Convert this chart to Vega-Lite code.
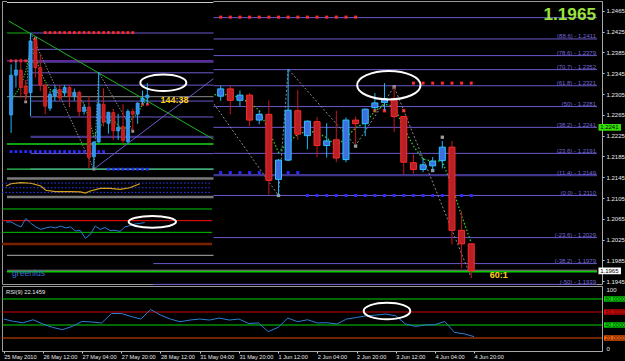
{
  "$schema": "https://vega.github.io/schema/vega-lite/v6.json",
  "background": "#000000",
  "padding": 0,
  "bounds": "flush",
  "spacing": 2,
  "config": {"view": {"stroke": "#9a9a9a", "strokeWidth": 1}, "font": "Liberation Sans",
    "axis": {"grid": false, "labelColor": "#e8e8e8", "tickColor": "#cccccc", "domainColor": "#a8a8a8", "labelFont": "Liberation Sans"}},
  "datasets": {
    "candles": [
      {"b":11,"o":1.2246,"h":1.2373,"l":1.2201,"c":1.2346},{"b":12,"o":1.2346,"h":1.2382,"l":1.2315,"c":1.2359},
      {"b":13,"o":1.2359,"h":1.2388,"l":1.2289,"c":1.2315},{"b":14,"o":1.2319,"h":1.2334,"l":1.2281,"c":1.2299},
      {"b":15,"o":1.2302,"h":1.2452,"l":1.2243,"c":1.2432},{"b":16,"o":1.2436,"h":1.2442,"l":1.2340,"c":1.2365},
      {"b":17,"o":1.2365,"h":1.2398,"l":1.2306,"c":1.2321},{"b":18,"o":1.2321,"h":1.2323,"l":1.2248,"c":1.2268},
      {"b":19,"o":1.2263,"h":1.2306,"l":1.2256,"c":1.2298},{"b":20,"o":1.2294,"h":1.2319,"l":1.2281,"c":1.2310},
      {"b":21,"o":1.2310,"h":1.2321,"l":1.2281,"c":1.2289},{"b":22,"o":1.2301,"h":1.2321,"l":1.2292,"c":1.2315},
      {"b":23,"o":1.2315,"h":1.2322,"l":1.2266,"c":1.2293},{"b":24,"o":1.2293,"h":1.2312,"l":1.2282,"c":1.2303},
      {"b":25,"o":1.2303,"h":1.2307,"l":1.2243,"c":1.2255},{"b":26,"o":1.2255,"h":1.2273,"l":1.2247,"c":1.2266},
      {"b":27,"o":1.2266,"h":1.2293,"l":1.2112,"c":1.2139},{"b":28,"o":1.2141,"h":1.2180,"l":1.2110,"c":1.2178},
      {"b":29,"o":1.2178,"h":1.2353,"l":1.2176,"c":1.2274},{"b":30,"o":1.2273,"h":1.2313,"l":1.2217,"c":1.2228},
      {"b":31,"o":1.2225,"h":1.2254,"l":1.2199,"c":1.2253},{"b":32,"o":1.2252,"h":1.2261,"l":1.2184,"c":1.2206},
      {"b":33,"o":1.2206,"h":1.2249,"l":1.2183,"c":1.2215},{"b":34,"o":1.2217,"h":1.2273,"l":1.2174,"c":1.2182},
      {"b":35,"o":1.2179,"h":1.2260,"l":1.2174,"c":1.2255},{"b":36,"o":1.2255,"h":1.2262,"l":1.2208,"c":1.2248},
      {"b":37,"o":1.2248,"h":1.2277,"l":1.2224,"c":1.2276},{"b":38,"o":1.2279,"h":1.2307,"l":1.2273,"c":1.2288},
      {"b":39,"o":1.2289,"h":1.2326,"l":1.2273,"c":1.2296},{"b":40,"o":1.2296,"h":1.2319,"l":1.2232,"c":1.2262},
      {"b":41,"o":1.2262,"h":1.2263,"l":1.2151,"c":1.2174},{"b":42,"o":1.2173,"h":1.2189,"l":1.2152,"c":1.2160},
      {"b":43,"o":1.2160,"h":1.2182,"l":1.2155,"c":1.2169},{"b":44,"o":1.2167,"h":1.2184,"l":1.2157,"c":1.2176},
      {"b":45,"o":1.2177,"h":1.2215,"l":1.2162,"c":1.2203},{"b":46,"o":1.2203,"h":1.2215,"l":1.2016,"c":1.2043},
      {"b":47,"o":1.2043,"h":1.2080,"l":1.1970,"c":1.2017},{"b":48,"o":1.2017,"h":1.2018,"l":1.1952,"c":1.1965}
    ],
    "ma": [
      {"b":11,"p":1.2281},{"b":12,"p":1.2300},{"b":13,"p":1.2319},{"b":14,"p":1.2355},{"b":15,"p":1.2410},
      {"b":16,"p":1.2394},{"b":17,"p":1.2356},{"b":18,"p":1.2331},{"b":19,"p":1.2310},{"b":20,"p":1.2302},
      {"b":21,"p":1.2303},{"b":22,"p":1.2305},{"b":23,"p":1.2303},{"b":24,"p":1.2298},{"b":25,"p":1.2288},
      {"b":26,"p":1.2274},{"b":27,"p":1.2234},{"b":28,"p":1.2193},{"b":29,"p":1.2211},{"b":30,"p":1.2228},
      {"b":31,"p":1.2234},{"b":32,"p":1.2231},{"b":33,"p":1.2221},{"b":34,"p":1.2205},{"b":35,"p":1.2221},
      {"b":36,"p":1.2240},{"b":37,"p":1.2250},{"b":38,"p":1.2272},{"b":39,"p":1.2285},{"b":40,"p":1.2282},
      {"b":41,"p":1.2240},{"b":42,"p":1.2205},{"b":43,"p":1.2180},{"b":44,"p":1.2176},{"b":45,"p":1.2176},
      {"b":46,"p":1.2128},{"b":47,"p":1.2071},{"b":48,"p":1.2019}
    ],
    "zz": [
      {"b":14,"p":1.2279},{"b":15,"p":1.2452},{"b":28,"p":1.2110},{"b":29,"p":1.2353},
      {"b":36,"p":1.2206},{"b":40,"p":1.2319},{"b":48,"p":1.1952}
    ],
    "frac": [
      {"b":14,"p":1.2279,"k":"gray"},{"b":16,"p":1.2438,"k":"gray"},{"b":28,"p":1.2110,"k":"gray"},
      {"b":36,"p":1.2205,"k":"gray"},{"b":40,"p":1.2319,"k":"gray"},{"b":44,"p":1.2158,"k":"gray"},
      {"b":45,"p":1.2222,"k":"gray"},{"b":15,"p":1.2392,"k":"red"},{"b":37,"p":1.2273,"k":"red"},
      {"b":38,"p":1.2273,"k":"red"},{"b":39,"p":1.2273,"k":"red"},{"b":41,"p":1.2273,"k":"red"}
    ],
    "dots": [
      {"b":11,"p":1.2382,"k":"res"},{"b":12,"p":1.2382,"k":"res"},{"b":13,"p":1.2382,"k":"res"},{"b":14,"p":1.2382,"k":"res"},
      {"b":18,"p":1.2453,"k":"res"},{"b":19,"p":1.2453,"k":"res"},{"b":20,"p":1.2453,"k":"res"},{"b":21,"p":1.2453,"k":"res"},
      {"b":22,"p":1.2453,"k":"res"},{"b":23,"p":1.2453,"k":"res"},{"b":24,"p":1.2453,"k":"res"},{"b":25,"p":1.2453,"k":"res"},
      {"b":26,"p":1.2453,"k":"res"},{"b":27,"p":1.2453,"k":"res"},{"b":28,"p":1.2453,"k":"res"},{"b":29,"p":1.2453,"k":"res"},
      {"b":30,"p":1.2453,"k":"res"},{"b":31,"p":1.2453,"k":"res"},{"b":32,"p":1.2453,"k":"res"},{"b":33,"p":1.2453,"k":"res"},
      {"b":34,"p":1.2453,"k":"res"},{"b":35,"p":1.2453,"k":"res"},{"b":36,"p":1.2453,"k":"res"},
      {"b":42,"p":1.2326,"k":"res"},{"b":43,"p":1.2326,"k":"res"},{"b":44,"p":1.2326,"k":"res"},{"b":45,"p":1.2326,"k":"res"},
      {"b":46,"p":1.2326,"k":"res"},{"b":47,"p":1.2326,"k":"res"},{"b":48,"p":1.2326,"k":"res"},
      {"b":11,"p":1.2154,"k":"sup"},{"b":12,"p":1.2154,"k":"sup"},{"b":13,"p":1.2154,"k":"sup"},{"b":14,"p":1.2154,"k":"sup"},
      {"b":15,"p":1.2154,"k":"sup"},{"b":16,"p":1.2154,"k":"sup"},{"b":17,"p":1.2154,"k":"sup"},{"b":18,"p":1.2154,"k":"sup"},
      {"b":19,"p":1.2154,"k":"sup"},{"b":20,"p":1.2154,"k":"sup"},{"b":21,"p":1.2154,"k":"sup"},{"b":22,"p":1.2154,"k":"sup"},
      {"b":23,"p":1.2154,"k":"sup"},{"b":24,"p":1.2154,"k":"sup"},{"b":25,"p":1.2154,"k":"sup"},{"b":26,"p":1.2154,"k":"sup"},
      {"b":27,"p":1.2154,"k":"sup"},{"b":28,"p":1.2154,"k":"sup"},{"b":29,"p":1.2154,"k":"sup"},{"b":30,"p":1.2154,"k":"sup"},
      {"b":31,"p":1.2110,"k":"sup"},{"b":32,"p":1.2110,"k":"sup"},{"b":33,"p":1.2110,"k":"sup"},{"b":34,"p":1.2110,"k":"sup"},
      {"b":35,"p":1.2110,"k":"sup"},{"b":36,"p":1.2110,"k":"sup"},{"b":37,"p":1.2110,"k":"sup"},{"b":38,"p":1.2110,"k":"sup"},
      {"b":39,"p":1.2110,"k":"sup"},{"b":40,"p":1.2110,"k":"sup"},{"b":41,"p":1.2110,"k":"sup"},{"b":42,"p":1.2110,"k":"sup"},
      {"b":43,"p":1.2110,"k":"sup"},{"b":44,"p":1.2110,"k":"sup"},{"b":45,"p":1.2110,"k":"sup"},{"b":46,"p":1.2110,"k":"sup"},
      {"b":47,"p":1.2110,"k":"sup"},{"b":48,"p":1.2110,"k":"sup"}
    ],
    "fib": [
      {"lvl":100,"p":1.2452},
      {"lvl":88.6,"p":1.2411,"t":"(88.6) - 1.2411"},
      {"lvl":78.6,"p":1.2379,"t":"(78.6) - 1.2379"},
      {"lvl":70.7,"p":1.2352,"t":"(70.7) - 1.2352"},
      {"lvl":61.8,"p":1.2321,"t":"(61.8) - 1.2321"},
      {"lvl":50,"p":1.2281,"t":"(50) - 1.2281"},
      {"lvl":38.2,"p":1.2241,"t":"(38.2) - 1.2241"},
      {"lvl":23.6,"p":1.2191,"t":"(23.6) - 1.2191"},
      {"lvl":11.4,"p":1.2149,"t":"(11.4) - 1.2149"},
      {"lvl":0,"p":1.2110,"t":"(0.0) - 1.2110"},
      {"lvl":-23.6,"p":1.2029,"t":"(-23.6) - 1.2029"},
      {"lvl":-38.2,"p":1.1979,"t":"(-38.2) - 1.1979"},
      {"lvl":-50,"p":1.1939,"t":"(-50) - 1.1939"}
    ],
    "mline": [{"p":1.19662,"k":"bid"},{"p":1.19633,"k":"grn"}],
    "pbox": [{"p":1.2241,"t":"1.2241","k":"lvl"},{"p":1.1965,"t":"1.1965","k":"cur"}],
    "inlines": [{"p":1.2382,"k":"mag"},{"p":1.2292,"k":"bid"},{"p":1.2173,"k":"g2"},{"p":1.2110,"k":"g3"}],
    "trend": [
      {"id":"g","b":10.5,"p":1.24822},{"id":"g","b":52.586,"p":1.21849},
      {"id":"s","b":28,"p":1.2110},{"id":"s","b":52.586,"p":1.23372}
    ],
    "osc": [
      {"b":11,"v":61},{"b":12,"v":76},{"b":14,"v":83},{"b":16,"v":79},{"b":18,"v":61},{"b":19,"v":34},
      {"b":21,"v":25},{"b":24,"v":25},{"b":26,"v":23},{"b":27,"v":16},{"b":28,"v":29},{"b":30,"v":46},
      {"b":32,"v":46},{"b":34,"v":40},{"b":36,"v":50},{"b":38,"v":76}
    ],
    "osclev": [{"v":80},{"v":50},{"v":20}],
    "rsi": [
      {"b":0,"v":49.2},{"b":1,"v":45.5},{"b":2,"v":43.5},{"b":3,"v":48.1},{"b":4,"v":41.5},{"b":5,"v":36.3},
      {"b":6,"v":32.8},{"b":7,"v":37.9},{"b":8,"v":45.5},{"b":9,"v":44.6},{"b":10,"v":43.1},{"b":11,"v":57.7},
      {"b":12,"v":57.7},{"b":13,"v":53.1},{"b":14,"v":49.2},{"b":15,"v":63.8},{"b":16,"v":55.3},{"b":17,"v":49.2},
      {"b":18,"v":45.0},{"b":19,"v":47.6},{"b":20,"v":49.2},{"b":21,"v":47.6},{"b":22,"v":50.7},{"b":23,"v":47.6},
      {"b":24,"v":49.2},{"b":25,"v":42.4},{"b":26,"v":43.1},{"b":27,"v":29.8},{"b":28,"v":36.3},{"b":29,"v":50.7},
      {"b":30,"v":45.0},{"b":31,"v":48.1},{"b":32,"v":43.1},{"b":33,"v":43.5},{"b":34,"v":41.5},{"b":35,"v":49.2},
      {"b":36,"v":51.6},{"b":37,"v":54.2},{"b":38,"v":55.3},{"b":39,"v":56.8},{"b":40,"v":54.2},{"b":41,"v":41.5},
      {"b":42,"v":37.9},{"b":43,"v":40.0},{"b":44,"v":40.5},{"b":45,"v":45.5},{"b":46,"v":28.7},{"b":47,"v":26.3},
      {"b":48,"v":22.1}
    ],
    "rsilev": [{"v":80,"t":"80.0000"},{"v":60,"t":"60.0000"},{"v":40,"t":"40.0000"},{"v":20,"t":"20.0000"}]
  },
  "vconcat": [
    {
      "width": 600,
      "height": 283,
      "resolve": {"scale": {"x": "independent", "y": "independent"}},
      "layer": [
        {
          "layer": [
            {
              "data": {"name": "fib"},
              "mark": {"type": "rule"},
              "encoding": {
                "x": {"datum": 15, "type": "quantitative", "scale": {"domain": [-0.173, 61.05], "nice": false, "zero": false}, "axis": null},
                "x2": {"datum": 61.05},
                "y": {"field": "p", "type": "quantitative", "scale": {"domain": [1.193977, 1.2484], "nice": false, "zero": false}, "axis": {"orient": "right", "title": null, "values": [1.1945,1.1985,1.2025,1.2065,1.2105,1.2145,1.2185,1.2225,1.2265,1.2305,1.2345,1.2385,1.2425,1.2465], "format": ".4f", "labelFontSize": 6, "labelColor": "#e8e8e8", "tickColor": "#cccccc", "tickSize": 2, "labelPadding": 2, "domainColor": "#a8a8a8", "labelOverlap": false, "labelFlush": false, "grid": false}},
                "color": {"condition": {"test": "datum.lvl == 11.4", "value": "#40378c"}, "value": "#6a5acd"},
                "strokeWidth": {"condition": {"test": "datum.lvl == 11.4", "value": 2.2}, "value": 1}
              }
            },
            {
              "data": {"name": "fib"},
              "transform": [{"filter": "isValid(datum.t)"}],
              "mark": {"type": "text", "align": "right", "baseline": "bottom", "fontSize": 6, "color": "#7468dc", "dy": 0.5},
              "encoding": {
                "x": {"datum": 60.95, "type": "quantitative", "scale": {"domain": [-0.173, 61.05], "nice": false, "zero": false}, "axis": null},
                "y": {"field": "p", "type": "quantitative", "scale": {"domain": [1.193977, 1.2484], "nice": false, "zero": false}, "axis": {"orient": "right", "title": null, "values": [1.1945,1.1985,1.2025,1.2065,1.2105,1.2145,1.2185,1.2225,1.2265,1.2305,1.2345,1.2385,1.2425,1.2465], "format": ".4f", "labelFontSize": 6, "labelColor": "#e8e8e8", "tickColor": "#cccccc", "tickSize": 2, "labelPadding": 2, "domainColor": "#a8a8a8", "labelOverlap": false, "labelFlush": false, "grid": false}},
                "text": {"field": "t"}
              }
            },
            {
              "data": {"name": "mline"},
              "mark": {"type": "rule"},
              "encoding": {
                "x": {"datum": -0.173, "type": "quantitative", "scale": {"domain": [-0.173, 61.05], "nice": false, "zero": false}, "axis": null},
                "x2": {"datum": 61.05},
                "y": {"field": "p", "type": "quantitative", "scale": {"domain": [1.193977, 1.2484], "nice": false, "zero": false}, "axis": {"orient": "right", "title": null, "values": [1.1945,1.1985,1.2025,1.2065,1.2105,1.2145,1.2185,1.2225,1.2265,1.2305,1.2345,1.2385,1.2425,1.2465], "format": ".4f", "labelFontSize": 6, "labelColor": "#e8e8e8", "tickColor": "#cccccc", "tickSize": 2, "labelPadding": 2, "domainColor": "#a8a8a8", "labelOverlap": false, "labelFlush": false, "grid": false}},
                "color": {"condition": {"test": "datum.k == 'grn'", "value": "#00d000"}, "value": "#8a8a8a"},
                "strokeWidth": {"condition": {"test": "datum.k == 'grn'", "value": 1.5}, "value": 1}
              }
            },
            {
              "data": {"name": "dots"},
              "transform": [{"filter": "datum.b >= 22"}],
              "mark": {"type": "point", "shape": "square", "filled": true, "size": 9, "opacity": 1},
              "encoding": {
                "x": {"field": "b", "type": "quantitative", "scale": {"domain": [-0.173, 61.05], "nice": false, "zero": false}, "axis": null},
                "y": {"field": "p", "type": "quantitative", "scale": {"domain": [1.193977, 1.2484], "nice": false, "zero": false}, "axis": {"orient": "right", "title": null, "values": [1.1945,1.1985,1.2025,1.2065,1.2105,1.2145,1.2185,1.2225,1.2265,1.2305,1.2345,1.2385,1.2425,1.2465], "format": ".4f", "labelFontSize": 6, "labelColor": "#e8e8e8", "tickColor": "#cccccc", "tickSize": 2, "labelPadding": 2, "domainColor": "#a8a8a8", "labelOverlap": false, "labelFlush": false, "grid": false}},
                "color": {"condition": {"test": "datum.k == 'res'", "value": "#ff2a2a"}, "value": "#2a2aff"}
              }
            },
            {
              "data": {"name": "frac"},
              "transform": [{"filter": "datum.b >= 22"}],
              "mark": {"type": "point", "shape": "square", "filled": true, "size": 11, "opacity": 1},
              "encoding": {
                "x": {"field": "b", "type": "quantitative", "scale": {"domain": [-0.173, 61.05], "nice": false, "zero": false}, "axis": null},
                "y": {"field": "p", "type": "quantitative", "scale": {"domain": [1.193977, 1.2484], "nice": false, "zero": false}, "axis": {"orient": "right", "title": null, "values": [1.1945,1.1985,1.2025,1.2065,1.2105,1.2145,1.2185,1.2225,1.2265,1.2305,1.2345,1.2385,1.2425,1.2465], "format": ".4f", "labelFontSize": 6, "labelColor": "#e8e8e8", "tickColor": "#cccccc", "tickSize": 2, "labelPadding": 2, "domainColor": "#a8a8a8", "labelOverlap": false, "labelFlush": false, "grid": false}},
                "color": {"condition": {"test": "datum.k == 'red'", "value": "#ff2020"}, "value": "#9a9a9a"}
              }
            },
            {
              "data": {"name": "zz"},
              "mark": {"type": "line", "color": "#8c8c8c", "strokeWidth": 1, "strokeDash": [2, 2]},
              "encoding": {
                "x": {"field": "b", "type": "quantitative", "scale": {"domain": [-0.173, 61.05], "nice": false, "zero": false}, "axis": null},
                "y": {"field": "p", "type": "quantitative", "scale": {"domain": [1.193977, 1.2484], "nice": false, "zero": false}, "axis": {"orient": "right", "title": null, "values": [1.1945,1.1985,1.2025,1.2065,1.2105,1.2145,1.2185,1.2225,1.2265,1.2305,1.2345,1.2385,1.2425,1.2465], "format": ".4f", "labelFontSize": 6, "labelColor": "#e8e8e8", "tickColor": "#cccccc", "tickSize": 2, "labelPadding": 2, "domainColor": "#a8a8a8", "labelOverlap": false, "labelFlush": false, "grid": false}}
              }
            },
            {
              "data": {"name": "ma"},
              "mark": {"type": "line", "color": "#2bd02b", "strokeWidth": 1.3, "strokeDash": [1.5, 2]},
              "encoding": {
                "x": {"field": "b", "type": "quantitative", "scale": {"domain": [-0.173, 61.05], "nice": false, "zero": false}, "axis": null},
                "y": {"field": "p", "type": "quantitative", "scale": {"domain": [1.193977, 1.2484], "nice": false, "zero": false}, "axis": {"orient": "right", "title": null, "values": [1.1945,1.1985,1.2025,1.2065,1.2105,1.2145,1.2185,1.2225,1.2265,1.2305,1.2345,1.2385,1.2425,1.2465], "format": ".4f", "labelFontSize": 6, "labelColor": "#e8e8e8", "tickColor": "#cccccc", "tickSize": 2, "labelPadding": 2, "domainColor": "#a8a8a8", "labelOverlap": false, "labelFlush": false, "grid": false}}
              }
            },
            {
              "data": {"name": "candles"},
              "transform": [{"filter": "datum.b >= 22"}],
              "mark": {"type": "rule", "strokeWidth": 1},
              "encoding": {
                "x": {"field": "b", "type": "quantitative", "scale": {"domain": [-0.173, 61.05], "nice": false, "zero": false}, "axis": null},
                "y": {"field": "l", "type": "quantitative", "scale": {"domain": [1.193977, 1.2484], "nice": false, "zero": false}, "axis": {"orient": "right", "title": null, "values": [1.1945,1.1985,1.2025,1.2065,1.2105,1.2145,1.2185,1.2225,1.2265,1.2305,1.2345,1.2385,1.2425,1.2465], "format": ".4f", "labelFontSize": 6, "labelColor": "#e8e8e8", "tickColor": "#cccccc", "tickSize": 2, "labelPadding": 2, "domainColor": "#a8a8a8", "labelOverlap": false, "labelFlush": false, "grid": false}},
                "y2": {"field": "h"},
                "color": {"condition": {"test": "datum.c >= datum.o", "value": "#19b6ff"}, "value": "#c4161c"}
              }
            },
            {
              "data": {"name": "candles"},
              "transform": [{"filter": "datum.b >= 22"}],
              "mark": {"type": "bar", "size": 6, "strokeWidth": 1},
              "encoding": {
                "x": {"field": "b", "type": "quantitative", "scale": {"domain": [-0.173, 61.05], "nice": false, "zero": false}, "axis": null},
                "y": {"field": "o", "type": "quantitative", "scale": {"domain": [1.193977, 1.2484], "nice": false, "zero": false}, "axis": {"orient": "right", "title": null, "values": [1.1945,1.1985,1.2025,1.2065,1.2105,1.2145,1.2185,1.2225,1.2265,1.2305,1.2345,1.2385,1.2425,1.2465], "format": ".4f", "labelFontSize": 6, "labelColor": "#e8e8e8", "tickColor": "#cccccc", "tickSize": 2, "labelPadding": 2, "domainColor": "#a8a8a8", "labelOverlap": false, "labelFlush": false, "grid": false}},
                "y2": {"field": "c"},
                "fill": {"condition": {"test": "datum.c >= datum.o", "value": "#3d6fe0"}, "value": "#b82025"},
                "stroke": {"condition": {"test": "datum.c >= datum.o", "value": "#29c6ff"}, "value": "#ff2a2a"}
              }
            },
            {
              "data": {"values": [{}]},
              "mark": {"type": "point", "shape": "M-1,0C-1,-0.247,-0.552,-0.448,0,-0.448C0.552,-0.448,1,-0.247,1,0C1,0.247,0.552,0.448,0,0.448C-0.552,0.448,-1,0.247,-1,0Z", "size": 4020, "filled": false, "color": "#ffffff", "strokeWidth": 2, "opacity": 1},
              "encoding": {
                "x": {"datum": 39.45, "type": "quantitative", "scale": {"domain": [-0.173, 61.05], "nice": false, "zero": false}, "axis": null},
                "y": {"datum": 1.23221, "type": "quantitative", "scale": {"domain": [1.193977, 1.2484], "nice": false, "zero": false}, "axis": {"orient": "right", "title": null, "values": [1.1945,1.1985,1.2025,1.2065,1.2105,1.2145,1.2185,1.2225,1.2265,1.2305,1.2345,1.2385,1.2425,1.2465], "format": ".4f", "labelFontSize": 6, "labelColor": "#e8e8e8", "tickColor": "#cccccc", "tickSize": 2, "labelPadding": 2, "domainColor": "#a8a8a8", "labelOverlap": false, "labelFlush": false, "grid": false}}
              }
            },
            {
              "data": {"values": [{}]},
              "mark": {"type": "text", "text": "1.1965", "align": "right", "baseline": "alphabetic", "fontSize": 17.2, "fontWeight": "bold", "color": "#9be33c"},
              "encoding": {
                "x": {"datum": 60.95, "type": "quantitative", "scale": {"domain": [-0.173, 61.05], "nice": false, "zero": false}, "axis": null},
                "y": {"datum": 1.244688, "type": "quantitative", "scale": {"domain": [1.193977, 1.2484], "nice": false, "zero": false}, "axis": {"orient": "right", "title": null, "values": [1.1945,1.1985,1.2025,1.2065,1.2105,1.2145,1.2185,1.2225,1.2265,1.2305,1.2345,1.2385,1.2425,1.2465], "format": ".4f", "labelFontSize": 6, "labelColor": "#e8e8e8", "tickColor": "#cccccc", "tickSize": 2, "labelPadding": 2, "domainColor": "#a8a8a8", "labelOverlap": false, "labelFlush": false, "grid": false}}
              }
            },
            {
              "data": {"values": [{}]},
              "mark": {"type": "text", "text": "60:1", "align": "left", "baseline": "alphabetic", "fontSize": 9, "fontWeight": "bold", "color": "#ffd21a"},
              "encoding": {
                "x": {"datum": 49.93, "type": "quantitative", "scale": {"domain": [-0.173, 61.05], "nice": false, "zero": false}, "axis": null},
                "y": {"datum": 1.195131, "type": "quantitative", "scale": {"domain": [1.193977, 1.2484], "nice": false, "zero": false}, "axis": {"orient": "right", "title": null, "values": [1.1945,1.1985,1.2025,1.2065,1.2105,1.2145,1.2185,1.2225,1.2265,1.2305,1.2345,1.2385,1.2425,1.2465], "format": ".4f", "labelFontSize": 6, "labelColor": "#e8e8e8", "tickColor": "#cccccc", "tickSize": 2, "labelPadding": 2, "domainColor": "#a8a8a8", "labelOverlap": false, "labelFlush": false, "grid": false}}
              }
            },
            {
              "data": {"values": [{}]},
              "mark": {"type": "text", "text": "greenius", "align": "left", "baseline": "alphabetic", "fontSize": 8.6, "color": "#3a6fd8"},
              "encoding": {
                "x": {"datum": 0.35, "type": "quantitative", "scale": {"domain": [-0.173, 61.05], "nice": false, "zero": false}, "axis": null},
                "y": {"datum": 1.195515, "type": "quantitative", "scale": {"domain": [1.193977, 1.2484], "nice": false, "zero": false}, "axis": {"orient": "right", "title": null, "values": [1.1945,1.1985,1.2025,1.2065,1.2105,1.2145,1.2185,1.2225,1.2265,1.2305,1.2345,1.2385,1.2425,1.2465], "format": ".4f", "labelFontSize": 6, "labelColor": "#e8e8e8", "tickColor": "#cccccc", "tickSize": 2, "labelPadding": 2, "domainColor": "#a8a8a8", "labelOverlap": false, "labelFlush": false, "grid": false}}
              }
            },
            {
              "data": {"name": "pbox"},
              "mark": {"type": "point", "shape": "M-1,-0.3L1,-0.3L1,0.3L-1,0.3Z", "size": 506, "filled": true, "opacity": 1},
              "encoding": {
                "x": {"datum": 62.37, "type": "quantitative", "scale": {"domain": [-0.173, 61.05], "nice": false, "zero": false}, "axis": null},
                "y": {"field": "p", "type": "quantitative", "scale": {"domain": [1.193977, 1.2484], "nice": false, "zero": false}, "axis": {"orient": "right", "title": null, "values": [1.1945,1.1985,1.2025,1.2065,1.2105,1.2145,1.2185,1.2225,1.2265,1.2305,1.2345,1.2385,1.2425,1.2465], "format": ".4f", "labelFontSize": 6, "labelColor": "#e8e8e8", "tickColor": "#cccccc", "tickSize": 2, "labelPadding": 2, "domainColor": "#a8a8a8", "labelOverlap": false, "labelFlush": false, "grid": false}},
                "color": {"condition": {"test": "datum.k == 'cur'", "value": "#ffffff"}, "value": "#35e000"}
              }
            },
            {
              "data": {"name": "pbox"},
              "mark": {"type": "text", "align": "left", "baseline": "middle", "fontSize": 6, "color": "#000000"},
              "encoding": {
                "x": {"datum": 61.38, "type": "quantitative", "scale": {"domain": [-0.173, 61.05], "nice": false, "zero": false}, "axis": null},
                "y": {"field": "p", "type": "quantitative", "scale": {"domain": [1.193977, 1.2484], "nice": false, "zero": false}, "axis": {"orient": "right", "title": null, "values": [1.1945,1.1985,1.2025,1.2065,1.2105,1.2145,1.2185,1.2225,1.2265,1.2305,1.2345,1.2385,1.2425,1.2465], "format": ".4f", "labelFontSize": 6, "labelColor": "#e8e8e8", "tickColor": "#cccccc", "tickSize": 2, "labelPadding": 2, "domainColor": "#a8a8a8", "labelOverlap": false, "labelFlush": false, "grid": false}},
                "text": {"field": "t"}
              }
            }
          ]
        },
        {
          "layer": [
            {
              "data": {"values": [{}]},
              "mark": {"type": "rect", "color": "#000000", "opacity": 1},
              "encoding": {
                "x": {"datum": 10.162, "type": "quantitative", "scale": {"domain": [10.162, 131.374], "nice": false, "zero": false}, "axis": null},
                "x2": {"datum": 52.586},
                "y": {"datum": 1.187662, "type": "quantitative", "scale": {"domain": [1.182135, 1.25324], "nice": false, "zero": false}, "axis": null},
                "y2": {"datum": 1.25324}
              }
            },
            {
              "data": {"values": [{}]},
              "mark": {"type": "rule", "color": "#c8c8c8", "strokeWidth": 1},
              "encoding": {
                "x": {"datum": 10.162, "type": "quantitative", "scale": {"domain": [10.162, 131.374], "nice": false, "zero": false}, "axis": null},
                "x2": {"datum": 52.586},
                "y": {"datum": 1.252863, "type": "quantitative", "scale": {"domain": [1.182135, 1.25324], "nice": false, "zero": false}, "axis": null}
              }
            },
            {
              "data": {"values": [{}]},
              "mark": {"type": "rule", "color": "#7a7a7a", "strokeWidth": 2.5},
              "encoding": {
                "x": {"datum": 10.162, "type": "quantitative", "scale": {"domain": [10.162, 131.374], "nice": false, "zero": false}, "axis": null},
                "x2": {"datum": 52.586},
                "y": {"datum": 1.208642, "type": "quantitative", "scale": {"domain": [1.182135, 1.25324], "nice": false, "zero": false}, "axis": null}
              }
            },
            {
              "data": {"values": [{}]},
              "mark": {"type": "rule", "color": "#7a7a7a", "strokeWidth": 2.5},
              "encoding": {
                "x": {"datum": 10.162, "type": "quantitative", "scale": {"domain": [10.162, 131.374], "nice": false, "zero": false}, "axis": null},
                "x2": {"datum": 52.586},
                "y": {"datum": 1.203994, "type": "quantitative", "scale": {"domain": [1.182135, 1.25324], "nice": false, "zero": false}, "axis": null}
              }
            },
            {
              "data": {"values": [{}]},
              "mark": {"type": "rule", "color": "#b0b0b0", "strokeWidth": 1},
              "encoding": {
                "x": {"datum": 10.162, "type": "quantitative", "scale": {"domain": [10.162, 131.374], "nice": false, "zero": false}, "axis": null},
                "x2": {"datum": 52.586},
                "y": {"datum": 1.189345, "type": "quantitative", "scale": {"domain": [1.182135, 1.25324], "nice": false, "zero": false}, "axis": null}
              }
            },
            {
              "data": {"name": "fib"},
              "transform": [{"filter": "datum.lvl >= 0"}],
              "mark": {"type": "rule"},
              "encoding": {
                "x": {"datum": 15, "type": "quantitative", "scale": {"domain": [10.162, 131.374], "nice": false, "zero": false}, "axis": null},
                "x2": {"datum": 52.586},
                "y": {"field": "p", "type": "quantitative", "scale": {"domain": [1.182135, 1.25324], "nice": false, "zero": false}, "axis": null},
                "color": {"condition": {"test": "datum.lvl == 23.6", "value": "#40378c"}, "value": "#6a5acd"},
                "strokeWidth": {"condition": {"test": "datum.lvl == 23.6", "value": 2.2}, "value": 1}
              }
            },
            {
              "data": {"name": "inlines"},
              "mark": {"type": "rule"},
              "encoding": {
                "x": {"datum": 10.162, "type": "quantitative", "scale": {"domain": [10.162, 131.374], "nice": false, "zero": false}, "axis": null},
                "x2": {"datum": 52.586},
                "y": {"field": "p", "type": "quantitative", "scale": {"domain": [1.182135, 1.25324], "nice": false, "zero": false}, "axis": null},
                "color": {"condition": [{"test": "datum.k == 'mag'", "value": "#9b3cf0"}, {"test": "datum.k == 'bid'", "value": "#8c8c8c"}, {"test": "datum.k == 'g2'", "value": "#10a010"}], "value": "#3dff6a"},
                "strokeWidth": {"condition": {"test": "datum.k == 'g2'", "value": 2}, "value": 1}
              }
            },
            {
              "data": {"values": [{}]},
              "mark": {"type": "rule", "color": "#12b012", "strokeWidth": 1},
              "encoding": {
                "x": {"datum": 10.162, "type": "quantitative", "scale": {"domain": [10.162, 131.374], "nice": false, "zero": false}, "axis": null},
                "x2": {"datum": 15},
                "y": {"datum": 1.2452, "type": "quantitative", "scale": {"domain": [1.182135, 1.25324], "nice": false, "zero": false}, "axis": null}
              }
            },
            {
              "data": {"name": "trend"},
              "mark": {"type": "line", "strokeWidth": 1},
              "encoding": {
                "x": {"field": "b", "type": "quantitative", "scale": {"domain": [10.162, 131.374], "nice": false, "zero": false}, "axis": null},
                "y": {"field": "p", "type": "quantitative", "scale": {"domain": [1.182135, 1.25324], "nice": false, "zero": false}, "axis": null},
                "detail": {"field": "id"},
                "color": {"condition": {"test": "datum.id == 'g'", "value": "#1fb31f"}, "value": "#6a5acd"}
              }
            },
            {
              "data": {"name": "dots"},
              "transform": [{"filter": "datum.b <= 39"}],
              "mark": {"type": "point", "shape": "square", "filled": true, "size": 8, "opacity": 1},
              "encoding": {
                "x": {"field": "b", "type": "quantitative", "scale": {"domain": [10.162, 131.374], "nice": false, "zero": false}, "axis": null},
                "y": {"field": "p", "type": "quantitative", "scale": {"domain": [1.182135, 1.25324], "nice": false, "zero": false}, "axis": null},
                "color": {"condition": {"test": "datum.k == 'res'", "value": "#ff2a2a"}, "value": "#2a2aff"}
              }
            },
            {
              "data": {"name": "frac"},
              "transform": [{"filter": "datum.b <= 39"}],
              "mark": {"type": "point", "shape": "square", "filled": true, "size": 8, "opacity": 1},
              "encoding": {
                "x": {"field": "b", "type": "quantitative", "scale": {"domain": [10.162, 131.374], "nice": false, "zero": false}, "axis": null},
                "y": {"field": "p", "type": "quantitative", "scale": {"domain": [1.182135, 1.25324], "nice": false, "zero": false}, "axis": null},
                "color": {"condition": {"test": "datum.k == 'red'", "value": "#ff2020"}, "value": "#9a9a9a"}
              }
            },
            {
              "data": {"name": "zz"},
              "transform": [{"filter": "datum.b <= 36"}],
              "mark": {"type": "line", "color": "#8c8c8c", "strokeWidth": 1, "strokeDash": [1.5, 1.5]},
              "encoding": {
                "x": {"field": "b", "type": "quantitative", "scale": {"domain": [10.162, 131.374], "nice": false, "zero": false}, "axis": null},
                "y": {"field": "p", "type": "quantitative", "scale": {"domain": [1.182135, 1.25324], "nice": false, "zero": false}, "axis": null}
              }
            },
            {
              "data": {"name": "ma"},
              "transform": [{"filter": "datum.b <= 39"}],
              "mark": {"type": "line", "color": "#2bd02b", "strokeWidth": 1.2, "strokeDash": [1.2, 1.5]},
              "encoding": {
                "x": {"field": "b", "type": "quantitative", "scale": {"domain": [10.162, 131.374], "nice": false, "zero": false}, "axis": null},
                "y": {"field": "p", "type": "quantitative", "scale": {"domain": [1.182135, 1.25324], "nice": false, "zero": false}, "axis": null}
              }
            },
            {
              "data": {"name": "candles"},
              "transform": [{"filter": "datum.b <= 39"}],
              "mark": {"type": "rule", "strokeWidth": 1},
              "encoding": {
                "x": {"field": "b", "type": "quantitative", "scale": {"domain": [10.162, 131.374], "nice": false, "zero": false}, "axis": null},
                "y": {"field": "l", "type": "quantitative", "scale": {"domain": [1.182135, 1.25324], "nice": false, "zero": false}, "axis": null},
                "y2": {"field": "h"},
                "color": {"condition": {"test": "datum.c >= datum.o", "value": "#19b6ff"}, "value": "#d01818"}
              }
            },
            {
              "data": {"name": "candles"},
              "transform": [{"filter": "datum.b <= 39"}],
              "mark": {"type": "bar", "size": 3.2, "strokeWidth": 0.6},
              "encoding": {
                "x": {"field": "b", "type": "quantitative", "scale": {"domain": [10.162, 131.374], "nice": false, "zero": false}, "axis": null},
                "y": {"field": "o", "type": "quantitative", "scale": {"domain": [1.182135, 1.25324], "nice": false, "zero": false}, "axis": null},
                "y2": {"field": "c"},
                "fill": {"condition": {"test": "datum.c >= datum.o", "value": "#3a8cf0"}, "value": "#c41c1c"},
                "stroke": {"condition": {"test": "datum.c >= datum.o", "value": "#29c6ff"}, "value": "#ff2a2a"}
              }
            },
            {
              "data": {"values": [{}]},
              "mark": {"type": "point", "shape": "M-1,0C-1,-0.199,-0.552,-0.36,0,-0.36C0.552,-0.36,1,-0.199,1,0C1,0.199,0.552,0.36,0,0.36C-0.552,0.36,-1,0.199,-1,0Z", "size": 2116, "filled": false, "color": "#ffffff", "strokeWidth": 2, "opacity": 1},
              "encoding": {
                "x": {"datum": 42.28, "type": "quantitative", "scale": {"domain": [10.162, 131.374], "nice": false, "zero": false}, "axis": null},
                "y": {"datum": 1.23271, "type": "quantitative", "scale": {"domain": [1.182135, 1.25324], "nice": false, "zero": false}, "axis": null}
              }
            },
            {
              "data": {"values": [{}]},
              "mark": {"type": "text", "text": "144:38", "align": "left", "baseline": "alphabetic", "fontSize": 9, "fontWeight": "bold", "color": "#ffd21a"},
              "encoding": {
                "x": {"datum": 41.68, "type": "quantitative", "scale": {"domain": [10.162, 131.374], "nice": false, "zero": false}, "axis": null},
                "y": {"datum": 1.227612, "type": "quantitative", "scale": {"domain": [1.182135, 1.25324], "nice": false, "zero": false}, "axis": null}
              }
            }
          ]
        },
        {
          "layer": [
            {
              "data": {"name": "osclev"},
              "mark": {"type": "rule", "color": "#2a3cff", "strokeWidth": 1, "strokeDash": [1.5, 2]},
              "encoding": {
                "x": {"datum": 10.162, "type": "quantitative", "scale": {"domain": [10.162, 131.374], "nice": false, "zero": false}, "axis": null},
                "x2": {"datum": 52.586},
                "y": {"field": "v", "type": "quantitative", "scale": {"domain": [-570.97, 1254.84], "nice": false, "zero": false}, "axis": null}
              }
            },
            {
              "data": {"name": "osc"},
              "mark": {"type": "line", "color": "#d8a021", "strokeWidth": 1.2},
              "encoding": {
                "x": {"field": "b", "type": "quantitative", "scale": {"domain": [10.162, 131.374], "nice": false, "zero": false}, "axis": null},
                "y": {"field": "v", "type": "quantitative", "scale": {"domain": [-570.97, 1254.84], "nice": false, "zero": false}, "axis": null}
              }
            }
          ]
        },
        {
          "layer": [
            {
              "data": {"name": "rsilev"},
              "mark": {"type": "rule"},
              "encoding": {
                "x": {"datum": 10.162, "type": "quantitative", "scale": {"domain": [10.162, 131.374], "nice": false, "zero": false}, "axis": null},
                "x2": {"datum": 52.586},
                "y": {"field": "v", "type": "quantitative", "scale": {"domain": [-48.46, 436.13], "nice": false, "zero": false}, "axis": null},
                "color": {"condition": [{"test": "datum.v == 60", "value": "#ff1010"}, {"test": "datum.v == 20", "value": "#7a2200"}], "value": "#00c800"},
                "strokeWidth": {"condition": {"test": "datum.v == 20", "value": 2.5}, "value": 1}
              }
            },
            {
              "data": {"name": "rsi"},
              "transform": [{"filter": "datum.b >= 11 && datum.b <= 39"}],
              "mark": {"type": "line", "color": "#2a7fd6", "strokeWidth": 1},
              "encoding": {
                "x": {"field": "b", "type": "quantitative", "scale": {"domain": [10.162, 131.374], "nice": false, "zero": false}, "axis": null},
                "y": {"field": "v", "type": "quantitative", "scale": {"domain": [-48.46, 436.13], "nice": false, "zero": false}, "axis": null}
              }
            },
            {
              "data": {"values": [{}]},
              "mark": {"type": "point", "shape": "M-1,0C-1,-0.135,-0.552,-0.245,0,-0.245C0.552,-0.245,1,-0.135,1,0C1,0.135,0.552,0.245,0,0.245C-0.552,0.245,-1,0.135,-1,0Z", "size": 2247, "filled": false, "color": "#ffffff", "strokeWidth": 2, "opacity": 1},
              "encoding": {
                "x": {"datum": 40.53, "type": "quantitative", "scale": {"domain": [10.162, 131.374], "nice": false, "zero": false}, "axis": null},
                "y": {"datum": 58, "type": "quantitative", "scale": {"domain": [-48.46, 436.13], "nice": false, "zero": false}, "axis": null}
              }
            }
          ]
        }
      ]
    },
    {
      "width": 600,
      "height": 65,
      "layer": [
        {
          "data": {"name": "rsilev"},
          "mark": {"type": "rule", "strokeWidth": 1},
          "encoding": {
            "x": {"datum": -0.173, "type": "quantitative", "scale": {"domain": [-0.173, 61.05], "nice": false, "zero": false}, "axis": {"orient": "bottom", "title": null, "values": [0,4,8,12,16,20,24,28,32,36,40,44,48], "labelExpr": "['25 May 2010','26 May 12:00','27 May 04:00','27 May 20:00','28 May 12:00','31 May 04:00','31 May 20:00','1 Jun 12:00','2 Jun 04:00','2 Jun 20:00','3 Jun 12:00','4 Jun 04:00','4 Jun 20:00'][round(datum.value/4)]", "labelAlign": "left", "labelBaseline": "top", "labelPadding": 1, "tickSize": 2, "tickColor": "#cfcfcf", "domainColor": "#a8a8a8", "labelColor": "#e8e8e8", "labelFontSize": 5.6, "labelFlush": false, "labelOverlap": false, "grid": false}},
            "x2": {"datum": 61.05},
            "y": {"field": "v", "type": "quantitative", "scale": {"domain": [0, 100], "nice": false, "zero": false}, "axis": {"orient": "right", "title": null, "values": [0, 100], "ticks": false, "labelPadding": 4, "labelFontSize": 6, "labelColor": "#e8e8e8", "labelFlush": true, "domainColor": "#a8a8a8", "labelOverlap": false, "grid": false}},
            "color": {"condition": [{"test": "datum.v == 60", "value": "#d40000"}, {"test": "datum.v == 20", "value": "#e04a00"}], "value": "#00d200"}
          }
        },
        {
          "data": {"name": "rsi"},
          "mark": {"type": "line", "color": "#2a7fd6", "strokeWidth": 1},
          "encoding": {
            "x": {"field": "b", "type": "quantitative", "scale": {"domain": [-0.173, 61.05], "nice": false, "zero": false}, "axis": {"orient": "bottom", "title": null, "values": [0,4,8,12,16,20,24,28,32,36,40,44,48], "labelExpr": "['25 May 2010','26 May 12:00','27 May 04:00','27 May 20:00','28 May 12:00','31 May 04:00','31 May 20:00','1 Jun 12:00','2 Jun 04:00','2 Jun 20:00','3 Jun 12:00','4 Jun 04:00','4 Jun 20:00'][round(datum.value/4)]", "labelAlign": "left", "labelBaseline": "top", "labelPadding": 1, "tickSize": 2, "tickColor": "#cfcfcf", "domainColor": "#a8a8a8", "labelColor": "#e8e8e8", "labelFontSize": 5.6, "labelFlush": false, "labelOverlap": false, "grid": false}},
            "y": {"field": "v", "type": "quantitative", "scale": {"domain": [0, 100], "nice": false, "zero": false}, "axis": {"orient": "right", "title": null, "values": [0, 100], "ticks": false, "labelPadding": 4, "labelFontSize": 6, "labelColor": "#e8e8e8", "labelFlush": true, "domainColor": "#a8a8a8", "labelOverlap": false, "grid": false}}
          }
        },
        {
          "data": {"values": [{}]},
          "mark": {"type": "point", "shape": "M-1,0C-1,-0.197,-0.552,-0.356,0,-0.356C0.552,-0.356,1,-0.197,1,0C1,0.197,0.552,0.356,0,0.356C-0.552,0.356,-1,0.197,-1,0Z", "size": 2172, "filled": false, "color": "#ffffff", "strokeWidth": 2, "opacity": 1},
          "encoding": {
            "x": {"datum": 39.11, "type": "quantitative", "scale": {"domain": [-0.173, 61.05], "nice": false, "zero": false}, "axis": {"orient": "bottom", "title": null, "values": [0,4,8,12,16,20,24,28,32,36,40,44,48], "labelExpr": "['25 May 2010','26 May 12:00','27 May 04:00','27 May 20:00','28 May 12:00','31 May 04:00','31 May 20:00','1 Jun 12:00','2 Jun 04:00','2 Jun 20:00','3 Jun 12:00','4 Jun 04:00','4 Jun 20:00'][round(datum.value/4)]", "labelAlign": "left", "labelBaseline": "top", "labelPadding": 1, "tickSize": 2, "tickColor": "#cfcfcf", "domainColor": "#a8a8a8", "labelColor": "#e8e8e8", "labelFontSize": 5.6, "labelFlush": false, "labelOverlap": false, "grid": false}},
            "y": {"datum": 61.5, "type": "quantitative", "scale": {"domain": [0, 100], "nice": false, "zero": false}, "axis": {"orient": "right", "title": null, "values": [0, 100], "ticks": false, "labelPadding": 4, "labelFontSize": 6, "labelColor": "#e8e8e8", "labelFlush": true, "domainColor": "#a8a8a8", "labelOverlap": false, "grid": false}}
          }
        },
        {
          "data": {"values": [{}]},
          "mark": {"type": "text", "text": "RSI(9) 22.1459", "align": "left", "baseline": "middle", "fontSize": 5.8, "color": "#e8e8e8"},
          "encoding": {
            "x": {"datum": 0.23, "type": "quantitative", "scale": {"domain": [-0.173, 61.05], "nice": false, "zero": false}, "axis": {"orient": "bottom", "title": null, "values": [0,4,8,12,16,20,24,28,32,36,40,44,48], "labelExpr": "['25 May 2010','26 May 12:00','27 May 04:00','27 May 20:00','28 May 12:00','31 May 04:00','31 May 20:00','1 Jun 12:00','2 Jun 04:00','2 Jun 20:00','3 Jun 12:00','4 Jun 04:00','4 Jun 20:00'][round(datum.value/4)]", "labelAlign": "left", "labelBaseline": "top", "labelPadding": 1, "tickSize": 2, "tickColor": "#cfcfcf", "domainColor": "#a8a8a8", "labelColor": "#e8e8e8", "labelFontSize": 5.6, "labelFlush": false, "labelOverlap": false, "grid": false}},
            "y": {"datum": 90.8, "type": "quantitative", "scale": {"domain": [0, 100], "nice": false, "zero": false}, "axis": {"orient": "right", "title": null, "values": [0, 100], "ticks": false, "labelPadding": 4, "labelFontSize": 6, "labelColor": "#e8e8e8", "labelFlush": true, "domainColor": "#a8a8a8", "labelOverlap": false, "grid": false}}
          }
        },
        {
          "data": {"name": "rsilev"},
          "mark": {"type": "point", "shape": "M-1,-0.225L1,-0.225L1,0.225L-1,0.225Z", "size": 552, "filled": true, "opacity": 1},
          "encoding": {
            "x": {"datum": 62.45, "type": "quantitative", "scale": {"domain": [-0.173, 61.05], "nice": false, "zero": false}, "axis": {"orient": "bottom", "title": null, "values": [0,4,8,12,16,20,24,28,32,36,40,44,48], "labelExpr": "['25 May 2010','26 May 12:00','27 May 04:00','27 May 20:00','28 May 12:00','31 May 04:00','31 May 20:00','1 Jun 12:00','2 Jun 04:00','2 Jun 20:00','3 Jun 12:00','4 Jun 04:00','4 Jun 20:00'][round(datum.value/4)]", "labelAlign": "left", "labelBaseline": "top", "labelPadding": 1, "tickSize": 2, "tickColor": "#cfcfcf", "domainColor": "#a8a8a8", "labelColor": "#e8e8e8", "labelFontSize": 5.6, "labelFlush": false, "labelOverlap": false, "grid": false}},
            "y": {"field": "v", "type": "quantitative", "scale": {"domain": [0, 100], "nice": false, "zero": false}, "axis": {"orient": "right", "title": null, "values": [0, 100], "ticks": false, "labelPadding": 4, "labelFontSize": 6, "labelColor": "#e8e8e8", "labelFlush": true, "domainColor": "#a8a8a8", "labelOverlap": false, "grid": false}},
            "color": {"condition": [{"test": "datum.v == 60", "value": "#e00000"}, {"test": "datum.v == 20", "value": "#ff5f00"}], "value": "#00e000"}
          }
        },
        {
          "data": {"name": "rsilev"},
          "mark": {"type": "text", "align": "left", "baseline": "middle", "fontSize": 5.6, "color": "#1a1a1a"},
          "encoding": {
            "x": {"datum": 61.35, "type": "quantitative", "scale": {"domain": [-0.173, 61.05], "nice": false, "zero": false}, "axis": {"orient": "bottom", "title": null, "values": [0,4,8,12,16,20,24,28,32,36,40,44,48], "labelExpr": "['25 May 2010','26 May 12:00','27 May 04:00','27 May 20:00','28 May 12:00','31 May 04:00','31 May 20:00','1 Jun 12:00','2 Jun 04:00','2 Jun 20:00','3 Jun 12:00','4 Jun 04:00','4 Jun 20:00'][round(datum.value/4)]", "labelAlign": "left", "labelBaseline": "top", "labelPadding": 1, "tickSize": 2, "tickColor": "#cfcfcf", "domainColor": "#a8a8a8", "labelColor": "#e8e8e8", "labelFontSize": 5.6, "labelFlush": false, "labelOverlap": false, "grid": false}},
            "y": {"field": "v", "type": "quantitative", "scale": {"domain": [0, 100], "nice": false, "zero": false}, "axis": {"orient": "right", "title": null, "values": [0, 100], "ticks": false, "labelPadding": 4, "labelFontSize": 6, "labelColor": "#e8e8e8", "labelFlush": true, "domainColor": "#a8a8a8", "labelOverlap": false, "grid": false}},
            "text": {"field": "t"}
          }
        }
      ]
    }
  ]
}
